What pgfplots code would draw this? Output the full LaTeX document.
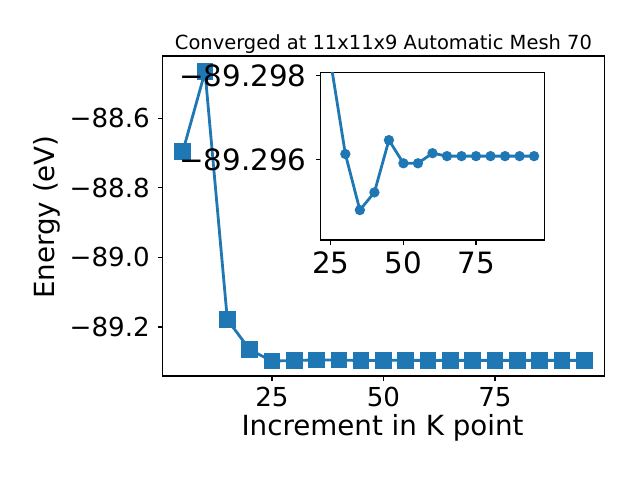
\documentclass[border=0pt]{standalone}
\usepackage{pgfplots}
\pgfplotsset{compat=1.18}
\usepackage{pgfplotstable}
\usepackage{fontspec}
\setmainfont{DejaVu Sans}
\definecolor{mplblue}{HTML}{1F77B4}

% Energy (eV) versus K-point increment
\pgfplotstableread{
k E
5 -88.696
10 -88.466
15 -89.1787
20 -89.265
25 -89.2983
30 -89.29614
35 -89.29481
40 -89.29523
45 -89.29647
50 -89.29592
55 -89.29592
60 -89.29616
65 -89.29609
70 -89.29609
75 -89.29609
80 -89.29609
85 -89.29609
90 -89.29609
95 -89.29609
}\maintable

% Inset: same energies from k=25 on, as (E + 89.29 eV) in meV
\pgfplotstableread{
k dE
25 -8.30
30 -6.14
35 -4.81
40 -5.23
45 -6.47
50 -5.92
55 -5.92
60 -6.16
65 -6.09
70 -6.09
75 -6.09
80 -6.09
85 -6.09
90 -6.09
95 -6.09
}\insettable

\begin{document}
\begin{tikzpicture}
\path[use as bounding box] (0pt,0pt) rectangle (480pt,360pt);
\begin{axis}[
  at={(122pt,78pt)}, anchor=south west, scale only axis,
  width=331.2pt, height=240pt,
  xmin=0.5, xmax=99.5, ymin=-89.341, ymax=-88.4207,
  xtick={25,50,75}, xticklabels={25,50,75},
  ytick={-89.2,-89.0,-88.8,-88.6},
  yticklabels={−89.2,−89.0,−88.8,−88.6},
  xtick pos=bottom, ytick pos=left,
  tick align=outside, major tick length=3.65pt,
  tick style={line width=0.83pt, black},
  axis line style={line width=0.83pt},
  /pgf/number format/assume math mode=true,
  tick label style={font=\fontsize{19.6}{19.6}\selectfont, inner sep=0pt},
  xticklabel style={anchor=north, yshift=-4.6pt},
  yticklabel style={anchor=east, xshift=-5.85pt},
]
\addplot[mplblue, line width=2.1pt, mark=square*, mark size=5.2pt,
  mark options={solid, fill=mplblue, draw=mplblue}] table[x=k, y=E] {\maintable};
\end{axis}

\begin{axis}[
  at={(240.5pt,180pt)}, anchor=south west, scale only axis,
  width=167.7pt, height=125.8pt,
  axis background/.style={fill=white},
  xmin=21.5, xmax=98.5, ymin=-8.08, ymax=-4.10, y dir=reverse,
  xtick={25,50,75}, xticklabels={25,50,75},
  ytick={-8,-6}, yticklabels={−89.298,−89.296},
  xtick pos=bottom, ytick pos=left,
  tick align=outside, major tick length=3.65pt,
  tick style={line width=0.83pt, black},
  axis line style={line width=0.83pt},
  /pgf/number format/assume math mode=true,
  tick label style={font=\fontsize{22}{22}\selectfont, inner sep=0pt},
  xticklabel style={anchor=north, yshift=-5.15pt},
  yticklabel style={anchor=east, xshift=-6.85pt},
]
\addplot[mplblue, line width=2.1pt, mark=*, mark size=2.75pt,
  mark options={solid, fill=mplblue, draw=mplblue}] table[x=k, y=dE] {\insettable};
\end{axis}

\node[anchor=base, font=\fontsize{14.6}{14.6}\selectfont] at (287.6pt,323.25pt) {Converged at 11x11x9 Automatic Mesh 70};
\node[anchor=base, font=\fontsize{20.8}{20.8}\selectfont] at (286.9pt,33.75pt) {Increment in K point};
\node[anchor=base, rotate=90, font=\fontsize{20.8}{20.8}\selectfont] at (41.25pt,197.25pt) {Energy (eV)};
\end{tikzpicture}
\end{document}
